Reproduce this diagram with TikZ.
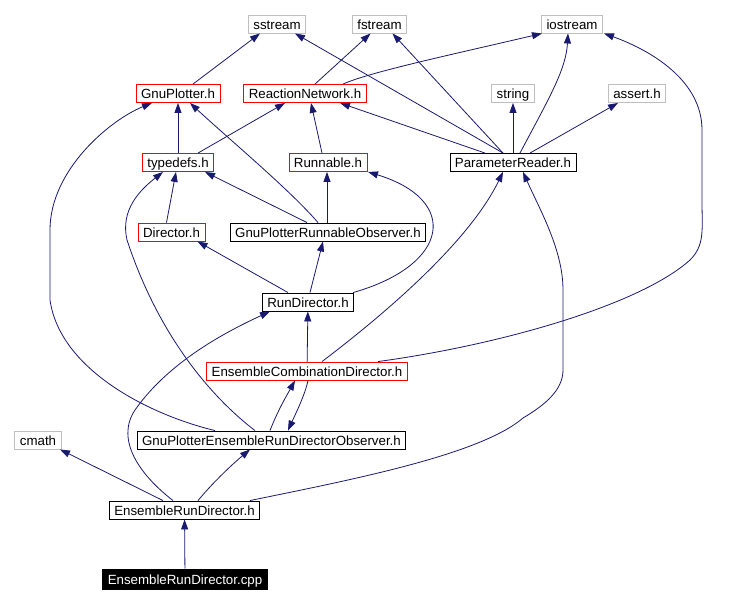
\documentclass[tikz,border=0pt]{standalone}
\usepackage{fontspec}
\setmainfont{Liberation Sans}
\usetikzlibrary{arrows.meta,calc}
\definecolor{edgeblue}{HTML}{191970}
\definecolor{sysgray}{HTML}{BFBFBF}

\begin{document}
\begin{tikzpicture}[x=1pt,y=-1pt,font=\fontsize{13.3}{15}\selectfont,>={Triangle[length=10pt,width=7pt]},
  hdr/.style={draw,line width=0.9pt,inner xsep=5pt,inner ysep=0pt,minimum height=18pt,text height=12pt,text depth=1.5pt},
  sys/.style={hdr,draw=sysgray},
  part/.style={hdr,draw=red},
  doc/.style={hdr,draw=black},
  src/.style={hdr,fill=black,text=white,minimum height=20pt},
  dep/.style={->,draw=edgeblue,line width=0.8pt}]
  \useasboundingbox (0,0) rectangle (729,603);
  % system headers
  \node[sys] (sstream) at (277,24) {sstream};
  \node[sys] (fstream) at (379.5,24) {fstream};
  \node[sys] (iostream) at (572,24) {iostream};
  \node[sys] (string) at (513,93.5) {string};
  \node[sys] (assert) at (637,93.5) {assert.h};
  \node[sys] (cmath) at (38,440) {cmath};
  % project headers
  \node[part] (gnuplotter) at (178,93.5) {GnuPlotter.h};
  \node[part] (reactnet) at (305,93.5) {ReactionNetwork.h};
  \node[part] (typedefs) at (178,162.5) {typedefs.h};
  \node[part] (runnable) at (328,162.5) {Runnable.h};
  \node[doc] (paramreader) at (513,162.5) {ParameterReader.h};
  \node[part] (director) at (171.5,232) {Director.h};
  \node[doc] (gprobs) at (328,232) {GnuPlotterRunnableObserver.h};
  \node[doc] (rundir) at (308,302) {RunDirector.h};
  \node[part] (ecd) at (307,371) {EnsembleCombinationDirector.h};
  \node[doc] (gperdo) at (271.5,440) {GnuPlotterEnsembleRunDirectorObserver.h};
  \node[doc] (erd) at (184.5,510) {EnsembleRunDirector.h};
  \node[src] (erdcpp) at (185,579) {EnsembleRunDirector.cpp};
  % includes of the upper headers
  \draw[dep] ([xshift=15pt]gnuplotter.north) -- ([xshift=-17pt]sstream.south);
  \draw[dep] ([xshift=10pt]reactnet.north) -- ([xshift=-9pt]fstream.south);
  \draw[dep] ([xshift=38pt]reactnet.north) .. controls (370,72) and (450,55) .. ([xshift=-30pt]iostream.south);
  \draw[dep] ([xshift=-10pt]paramreader.north) -- ([xshift=18pt]sstream.south);
  \draw[dep] ([xshift=-10pt]paramreader.north) -- ([xshift=13pt]fstream.south);
  \draw[dep] ([xshift=7pt]paramreader.north) .. controls (548,100) and (566,70) .. ([xshift=-4pt]iostream.south);
  \draw[dep] (paramreader) -- (string);
  \draw[dep] ([xshift=17pt]paramreader.north) -- ([xshift=-19pt]assert.south);
  \draw[dep] ([xshift=-28pt]paramreader.north) -- ([xshift=35pt]reactnet.south);
  \draw[dep] (typedefs) -- (gnuplotter);
  \draw[dep] ([xshift=20pt]typedefs.north) -- ([xshift=-20pt]reactnet.south);
  \draw[dep] ([xshift=-10pt]gprobs.north) .. controls (290,190) and (230,140) .. ([xshift=12pt]gnuplotter.south);
  \draw[dep] ([xshift=-21pt]gprobs.north) -- ([xshift=27pt]typedefs.south);
  \draw[dep] ([xshift=-1pt]gprobs.north) -- ([xshift=-1pt]runnable.south);
  \draw[dep] ([xshift=-6pt]runnable.north) -- ([xshift=6pt]reactnet.south);
  \draw[dep] ([xshift=-5pt]director.north) -- ([xshift=-2pt]typedefs.south);
  % run directors
  \draw[dep] ([xshift=-20pt]rundir.north) -- ([xshift=26pt]director.south);
  \draw[dep] ([xshift=2pt]rundir.north) -- ([xshift=-5pt]gprobs.south);
  \draw[dep] ([xshift=-1pt]rundir.north east) .. controls (450,265) and (460,200) .. ([xshift=40pt]runnable.south);
  \draw[dep] (ecd) -- (rundir);
  \draw[dep] ([xshift=15pt]ecd.north) .. controls (390,310) and (470,240) .. ([xshift=-10pt]paramreader.south);
  \draw[dep] ([xshift=71pt]ecd.north) .. controls (500,345) and (640,305) .. (690,260)
    .. controls (705,245) and (702,230) .. (702,200) -- (702,130)
    .. controls (702,80) and (650,50) .. ([xshift=32pt]iostream.south);
  \draw[dep] ([xshift=-1.5pt]gperdo.north) .. controls (278,410) and (287,395) .. ([xshift=-12pt]ecd.south);
  \draw[dep] ([xshift=1pt]ecd.south) .. controls (305,395) and (295,415) .. ([xshift=16.5pt]gperdo.north);
  \draw[dep] ([xshift=-56.5pt]gperdo.north) .. controls (150,415) and (60,370) .. (50,300) -- (50,230)
    .. controls (50,170) and (110,120) .. ([xshift=-26pt]gnuplotter.south);
  \draw[dep] ([xshift=-16.5pt]gperdo.north) .. controls (215,400) and (160,340) .. (127,240)
    .. controls (120,210) and (140,190) .. ([xshift=-15pt]typedefs.south);
  % the ensemble run director
  \draw[dep] ([xshift=-21.5pt]erd.north) -- ([xshift=22pt]cmath.south);
  \draw[dep] ([xshift=-11.5pt]erd.north) .. controls (140,475) and (115,440) .. (135,410)
    .. controls (170,360) and (230,330) .. ([xshift=-38pt]rundir.south);
  \draw[dep] ([xshift=13.5pt]erd.north) .. controls (215,480) and (235,462) .. ([xshift=-21.5pt]gperdo.south);
  \draw[dep] ([xshift=65.5pt]erd.north) .. controls (350,480) and (480,455) .. (523,418)
    .. controls (545,405) and (563,390) .. (563,370) -- (563,290)
    .. controls (563,250) and (540,210) .. ([xshift=10pt]paramreader.south);
  \draw[dep] (erdcpp) -- (erd);
\end{tikzpicture}
\end{document}
